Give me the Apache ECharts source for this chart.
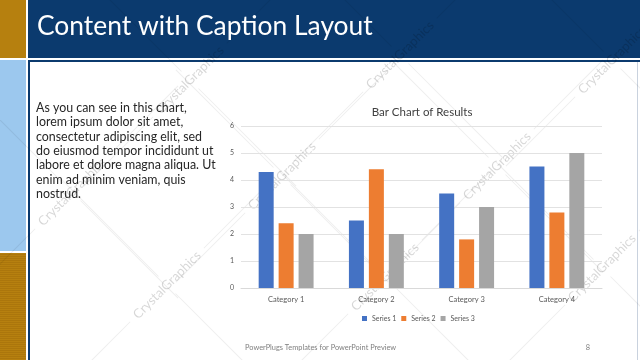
<!DOCTYPE html>
<html>
<head>
<meta charset="utf-8">
<script src="https://cdn.jsdelivr.net/npm/echarts@6/dist/echarts.min.js"></script>
<style>html,body{margin:0;padding:0;background:#fff}#c{width:640px;height:360px}</style>
</head>
<body>
<div id="c"></div>
<script>
const slideTitle = 'Content with Caption Layout';
const captionLines = [
  'As you can see in this chart,',
  'lorem ipsum dolor sit amet,',
  'consectetur adipiscing elit, sed',
  'do eiusmod tempor incididunt ut',
  'labore et dolore magna aliqua. Ut',
  'enim ad minim veniam, quis',
  'nostrud.'
];
const chartTitle = 'Bar Chart of Results';
const categories = ['Category 1', 'Category 2', 'Category 3', 'Category 4'];
const seriesNames = ['Series 1', 'Series 2', 'Series 3'];
const series1 = [4.3, 2.5, 3.5, 4.5];
const series2 = [2.4, 4.4, 1.8, 2.8];
const series3 = [2, 2, 3, 5];
const yMin = 0, yMax = 6, yStep = 1;
const footerText = 'PowerPlugs Templates for PowerPoint Preview';
const pageNumber = '8';
const watermarkText = 'CrystalGraphics';

const FONT = 'Lato, "Noto Sans", sans-serif';
const colors = ['#4472C4', '#ED7D31', '#A5A5A5'];

const wmSpots = [[190, 80], [400, 55], [612, 60], [72, 192], [282, 176], [497, 166], [167, 285], [385, 277], [602, 268]];
function watermark(cx, cy) {
  const lc = 'rgba(0,0,0,0.07)';
  return {
    type: 'group', x: cx, y: cy, rotation: Math.PI / 4, z: 100, silent: true,
    children: [
      { type: 'line', shape: { x1: -150, y1: 0, x2: -52, y2: 0 }, style: { stroke: lc, lineWidth: 1 } },
      { type: 'line', shape: { x1: 52, y1: 0, x2: 150, y2: 0 }, style: { stroke: lc, lineWidth: 1 } },
      { type: 'line', shape: { x1: 0, y1: -150, x2: 0, y2: -12 }, style: { stroke: lc, lineWidth: 1 } },
      { type: 'line', shape: { x1: 0, y1: 12, x2: 0, y2: 150 }, style: { stroke: lc, lineWidth: 1 } },
      { type: 'text', x: 0, y: 0, style: { text: watermarkText, font: '13px ' + FONT, fill: 'rgba(0,0,0,0.16)', align: 'center', verticalAlign: 'middle' } }
    ]
  };
}

const stripes = [];
for (let y = 254; y < 360; y += 2) {
  stripes.push({ type: 'rect', shape: { x: 0, y: y, width: 26, height: 1 }, style: { fill: 'rgba(120,70,0,0.18)' }, z: -9, silent: true });
}

const chart = echarts.init(document.getElementById('c'), null, { renderer: 'canvas' });
chart.setOption({
  animation: false,
  backgroundColor: '#ffffff',
  color: colors,
  title: {
    text: chartTitle, left: 417, top: 101, textAlign: 'center',
    textStyle: { fontFamily: FONT, fontSize: 11.5, fontWeight: 'normal', color: '#404040' }
  },
  legend: {
    data: seriesNames, top: 310, left: 357,
    itemWidth: 5, itemHeight: 5, itemGap: 5, icon: 'rect',
    textStyle: { fontFamily: FONT, fontSize: 7, color: '#595959' }
  },
  grid: { left: 241, right: 38, top: 126, bottom: 72, containLabel: false },
  xAxis: {
    type: 'category', data: categories,
    axisLine: { lineStyle: { color: '#d9d9d9' } }, axisTick: { show: false },
    axisLabel: { fontFamily: FONT, fontSize: 7.5, color: '#595959', margin: 8 }
  },
  yAxis: {
    type: 'value', min: yMin, max: yMax, interval: yStep,
    axisLine: { show: false }, axisTick: { show: false },
    splitLine: { lineStyle: { color: '#e2e2e2' } },
    axisLabel: { fontFamily: FONT, fontSize: 7, color: '#595959', margin: 7 }
  },
  series: [
    { name: seriesNames[0], type: 'bar', data: series1, barWidth: 15, barGap: '33%' },
    { name: seriesNames[1], type: 'bar', data: series2, barWidth: 15, barGap: '33%' },
    { name: seriesNames[2], type: 'bar', data: series3, barWidth: 15, barGap: '33%' }
  ],
  graphic: [
    { type: 'rect', shape: { x: 28, y: 0, width: 612, height: 58 }, style: { fill: '#0B3A6E' }, z: -10, silent: true },
    { type: 'rect', shape: { x: 28, y: 60, width: 612, height: 2 }, style: { fill: '#0B3A6E' }, z: -10, silent: true },
    { type: 'rect', shape: { x: 28, y: 60, width: 2, height: 300 }, style: { fill: '#0B3A6E' }, z: -10, silent: true },
    { type: 'rect', shape: { x: 637, y: 62, width: 1, height: 298 }, style: { fill: '#c9d2de' }, z: -10, silent: true },
    { type: 'rect', shape: { x: 0, y: 0, width: 26, height: 58 }, style: { fill: '#B6800F' }, z: -10, silent: true },
    { type: 'rect', shape: { x: 0, y: 60, width: 26, height: 191 }, style: { fill: '#9CC8EE' }, z: -10, silent: true },
    { type: 'rect', shape: { x: 0, y: 253, width: 26, height: 107 }, style: { fill: '#B6800F' }, z: -10, silent: true },
    ...stripes,
    { type: 'text', x: 37, y: 26, style: { text: slideTitle, font: '26.4px ' + FONT, fill: '#ffffff', verticalAlign: 'middle' }, z: 5 },
    { type: 'text', x: 36, y: 101, style: { text: captionLines.join('\n'), font: '12.4px ' + FONT, fill: '#262626', lineHeight: 14.3, verticalAlign: 'top' }, z: 5 },
    { type: 'text', x: 245, y: 348, style: { text: footerText, font: '7.4px ' + FONT, fill: '#7f7f7f', verticalAlign: 'middle' }, z: 5 },
    { type: 'text', x: 588, y: 348, style: { text: pageNumber, font: '7.4px ' + FONT, fill: '#7f7f7f', align: 'center', verticalAlign: 'middle' }, z: 5 },
    ...wmSpots.map(p => watermark(p[0], p[1]))
  ]
});
</script>
</body>
</html>
